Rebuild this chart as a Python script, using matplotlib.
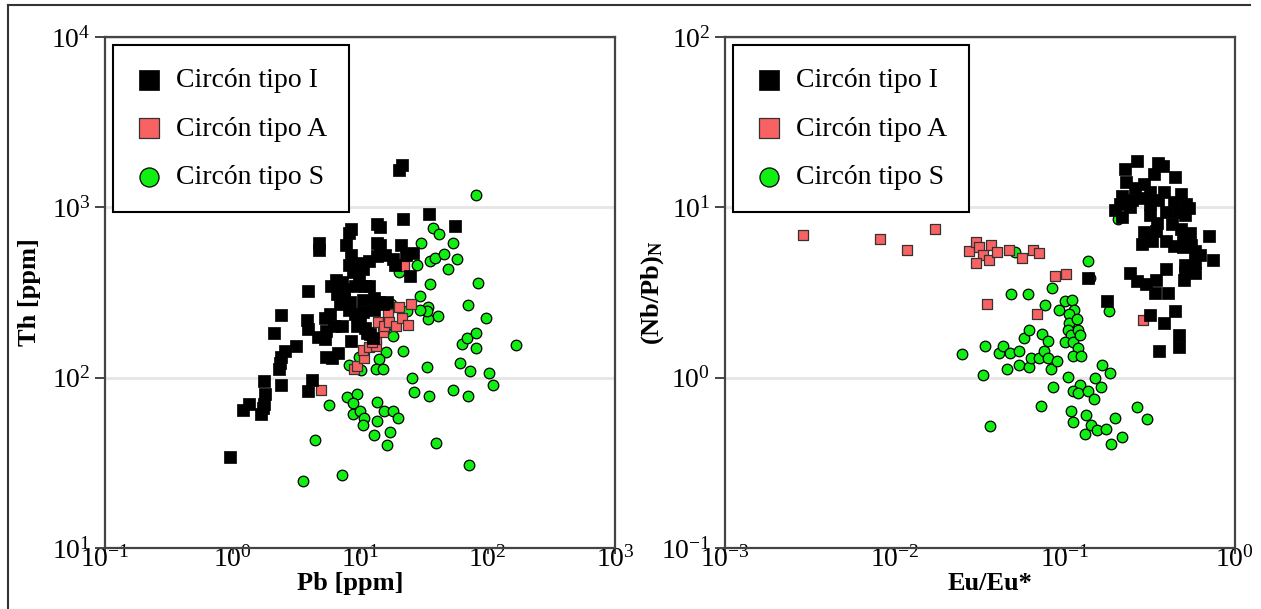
import numpy as np
import matplotlib.pyplot as plt
from matplotlib.lines import Line2D

plt.rcParams['font.family'] = ['Liberation Serif', 'DejaVu Serif']
plt.rcParams['mathtext.fontset'] = 'custom'
plt.rcParams['mathtext.rm'] = 'Liberation Serif'
plt.rcParams['mathtext.bf'] = 'Liberation Serif:bold'
plt.rcParams['axes.unicode_minus'] = False

labels = ['Circón tipo I', 'Circón tipo A', 'Circón tipo S']

# Th vs Pb (ppm)
pb_I = [0.95, 1.20, 1.35, 1.68, 1.73, 1.77, 1.81, 1.78, 2.41, 2.32, 2.34, 2.38, 2.59, 3.12,
        2.11, 2.41, 3.89, 3.84, 3.89, 4.19, 3.89, 4.75, 4.75, 4.68, 5.35, 5.42, 5.35, 5.93,
        6.52, 7.18, 6.05, 6.76, 7.83, 8.26, 8.44, 8.44, 8.13, 8.13, 8.57, 7.28, 6.28, 5.83,
        7.01, 7.55, 9.08, 9.77, 9.63, 10.5, 10.9, 10.5, 9.08, 9.42, 11.3, 12.6, 10.5, 11.7,
        13.6, 15.8, 13.6, 14.3, 13.6, 14.3, 12.9, 14.1, 15.2, 12.9, 16.4, 18.3, 18.7, 20.9,
        21.7, 21.2, 20.1, 22.8, 25.9, 24.6, 34.8, 55.2, 11.7, 8.3, 5.42, 10.0, 11.0, 12.0,
        6.6, 7.5, 10.1, 8.8]
th_I = [34, 65, 70, 61, 66, 70, 80, 95, 90, 112, 122, 132, 143, 153,
        184, 233, 324, 217, 194, 97, 84, 618, 562, 174, 169, 189, 223, 346,
        376, 366, 130, 139, 601, 710, 750, 524, 456, 249, 164, 200, 200, 236,
        270, 294, 346, 386, 432, 432, 346, 286, 236, 200, 184, 171, 242, 482,
        516, 524, 793, 771, 618, 601, 294, 278, 270, 249, 278, 495, 456, 601,
        859, 1762, 1667, 524, 538, 397, 908, 778, 346, 278, 132, 210, 195, 180,
        310, 330, 470, 415]

pb_A = [4.90, 8.95, 9.42, 10.8, 10.5, 11.7, 13.3, 13.4, 13.9, 15.2, 15.4, 16.7, 17.0, 19.0,
        20.3, 21.2, 23.7, 25.1, 22.0, 12.4]
th_A = [85, 112, 117, 131, 146, 151, 153, 169, 211, 186, 200, 238, 211, 202,
        260, 225, 205, 270, 451, 162]

pb_S = [3.59, 7.23, 4.42, 5.76, 7.96, 9.51, 8.83, 8.75, 9.94, 10.8, 10.6, 12.9, 13.5, 13.5,
        15.5, 16.4, 17.2, 18.3, 19.7, 39.1, 71.4, 25.5, 26.7, 34.8, 54.1, 70.5, 103, 111,
        72.6, 60.8, 33.7, 167, 81.7, 63.1, 68.9, 81.1, 98.2, 70.5, 84.1, 41.1, 34.2, 34.2,
        33.7, 29.5, 29.5, 35.5, 27.9, 35.5, 38.5, 45.3, 49.4, 57.3, 53.2, 30.2, 37.4, 41.5,
        81.7, 23.3, 20.1, 17.6, 18.0, 21.7, 16.1, 14.1, 13.4, 15.2, 10.1, 8.26, 9.77, 16.1]
th_S = [24.8, 27, 43, 69, 77, 80, 71, 61, 64, 58, 53, 46, 56, 72,
        64, 40, 48, 64, 58, 41.5, 30.5, 99, 82, 78, 85, 78, 106, 90,
        109, 122, 116, 156, 149, 158, 171, 184, 225, 266, 360, 229, 220, 260,
        246, 249, 302, 356, 456, 482, 503, 532, 432, 495, 618, 618, 757, 701,
        1178, 246, 420, 270, 176, 143, 142, 128, 113, 112, 111, 119, 132, 200]

# (Nb/Pb)N vs Eu/Eu*
eu_I = [0.265, 0.227, 0.354, 0.378, 0.335, 0.446, 0.230, 0.257, 0.292, 0.216, 0.247, 0.317,
        0.385, 0.482, 0.210, 0.196, 0.218, 0.240, 0.281, 0.317, 0.354, 0.437, 0.515, 0.317,
        0.395, 0.461, 0.507, 0.350, 0.429, 0.480, 0.344, 0.292, 0.284, 0.326, 0.395, 0.437,
        0.494, 0.551, 0.545, 0.706, 0.582, 0.622, 0.746, 0.507, 0.582, 0.507, 0.582, 0.501,
        0.243, 0.265, 0.300, 0.344, 0.391, 0.339, 0.402, 0.317, 0.446, 0.385, 0.467, 0.472,
        0.357, 0.137, 0.178, 0.515, 0.535, 0.494]
nbpb_I = [18.6, 16.8, 18.1, 17.6, 15.8, 15.1, 14.1, 13.0, 13.7, 11.6, 11.0, 12.3,
          12.3, 12.0, 10.4, 9.6, 8.83, 10.1, 11.3, 10.4, 11.0, 10.7, 10.4, 9.07,
          9.33, 9.33, 9.07, 8.12, 8.00, 7.50, 7.30, 7.16, 6.08, 6.35, 6.35, 5.94,
          5.84, 6.01, 7.10, 6.79, 5.53, 5.24, 4.90, 4.56, 4.69, 4.20, 4.13, 3.76,
          4.13, 3.70, 3.56, 3.76, 4.36, 3.16, 3.16, 2.32, 2.46, 2.09, 1.77, 1.51,
          1.43, 3.83, 2.81, 6.71, 9.86, 6.35]

eu_A = [0.00286, 0.00816, 0.0118, 0.0171, 0.0271, 0.0299, 0.0314, 0.0329, 0.0301, 0.0359,
        0.0367, 0.0399, 0.0471, 0.0559, 0.0648, 0.0700, 0.0879, 0.101, 0.0348, 0.0689, 0.288]
nbpb_A = [6.9, 6.53, 5.62, 7.50, 5.53, 6.29, 5.88, 5.24, 4.74, 4.93,
          6.01, 5.44, 5.60, 5.01, 5.62, 5.38, 3.97, 4.08, 2.69, 2.38, 2.18]

eu_S = [0.0249, 0.0341, 0.0329, 0.0361, 0.0410, 0.0433, 0.0479, 0.0458, 0.0476, 0.0534,
        0.0534, 0.0577, 0.0610, 0.0617, 0.0613, 0.0631, 0.0705, 0.0733, 0.0753, 0.0766,
        0.0796, 0.0796, 0.0842, 0.0832, 0.0850, 0.0903, 0.0918, 0.0724, 0.100, 0.110,
        0.113, 0.105, 0.105, 0.104, 0.108, 0.100, 0.111, 0.117, 0.119, 0.122,
        0.119, 0.111, 0.124, 0.104, 0.122, 0.111, 0.119, 0.137, 0.149, 0.150,
        0.162, 0.166, 0.185, 0.108, 0.112, 0.133, 0.131, 0.142, 0.155, 0.174,
        0.187, 0.198, 0.217, 0.264, 0.306, 0.137, 0.140, 0.182, 0.204, 0.0506]
nbpb_S = [1.38, 1.53, 1.04, 0.522, 1.39, 1.53, 3.10, 1.13, 1.39, 1.43,
          1.18, 1.71, 3.10, 1.91, 1.16, 1.31, 1.31, 1.81, 1.43, 2.66,
          1.64, 1.30, 3.37, 1.12, 0.88, 1.26, 2.49, 0.68, 2.81, 2.86,
          2.49, 2.36, 2.09, 1.91, 1.77, 1.62, 1.62, 2.20, 1.91, 1.77,
          1.50, 1.34, 1.34, 1.01, 0.90, 0.83, 0.81, 0.83, 0.75, 1.00,
          0.88, 1.18, 1.06, 0.64, 0.55, 0.60, 0.47, 0.53, 0.49, 0.50,
          0.41, 0.58, 0.45, 0.67, 0.57, 4.82, 3.83, 2.46, 8.59, 5.44]

fig = plt.figure(figsize=(12.61, 6.09), dpi=100)
ax1 = fig.add_axes([0.0833, 0.1002, 0.4044, 0.839])
ax2 = fig.add_axes([0.5749, 0.1002, 0.4044, 0.839])

def draw(ax, xs, ys):
    # S first, then A, then I on top
    hs = ax.scatter(xs[2], ys[2], s=58, marker='o', c='#11ee11', edgecolors='black', linewidths=0.9, zorder=3)
    ha = ax.scatter(xs[1], ys[1], s=58, marker='s', c='#f86262', edgecolors='#333333', linewidths=0.9, zorder=4)
    hi = ax.scatter(xs[0], ys[0], s=68, marker='s', c='black', edgecolors='black', linewidths=0.5, zorder=5)
    ax.set_xscale('log')
    ax.set_yscale('log')
    ax.minorticks_off()
    ax.yaxis.grid(True, color='#e6e6e6', lw=2)
    ax.set_axisbelow(True)
    for sp in ax.spines.values():
        sp.set_color('#444444')
        sp.set_linewidth(1.6)
    ax.tick_params(direction='out', width=1.4, color='#444444', labelsize=20)
    ax.tick_params(axis='y', length=7, pad=3.5)
    ax.tick_params(axis='x', length=4, pad=-5)
    leg = ax.legend([hi, ha, hs], labels, loc='upper left', fontsize=20, fancybox=False,
                    edgecolor='black', markerscale=1.8, labelspacing=0.83, borderpad=0.8,
                    handlelength=1.0, handletextpad=0.45, borderaxespad=0.3, framealpha=1)
    leg.get_frame().set_linewidth(1.5)

draw(ax1, [pb_I, pb_A, pb_S], [th_I, th_A, th_S])
ax1.set_xlim(0.1, 1000)
ax1.set_ylim(10, 10000)
ax1.set_xlabel('Pb [ppm]', fontsize=19, fontweight='bold')
ax1.set_ylabel('Th [ppm]', fontsize=19, fontweight='bold')
ax1.xaxis.set_label_coords(0.48, -0.047)
ax1.yaxis.set_label_coords(-0.126, 0.5)

draw(ax2, [eu_I, eu_A, eu_S], [nbpb_I, nbpb_A, nbpb_S])
ax2.set_xlim(0.001, 1)
ax2.set_ylim(0.1, 100)
ax2.set_xlabel('Eu/Eu*', fontsize=19, fontweight='bold')
ax2.set_ylabel(r'$\mathbf{(Nb/Pb)_N}$', fontsize=19)
ax2.xaxis.set_label_coords(0.52, -0.047)
ax2.yaxis.set_label_coords(-0.116, 0.5)

# outer frame (top and left edges)
fig.add_artist(Line2D([8/1261, 1250/1261], [1-5/609, 1-5/609], color='#333333', lw=1.5))
fig.add_artist(Line2D([8/1261, 8/1261], [0, 1-5/609], color='#333333', lw=1.5))

plt.savefig('out.png', dpi=100)
